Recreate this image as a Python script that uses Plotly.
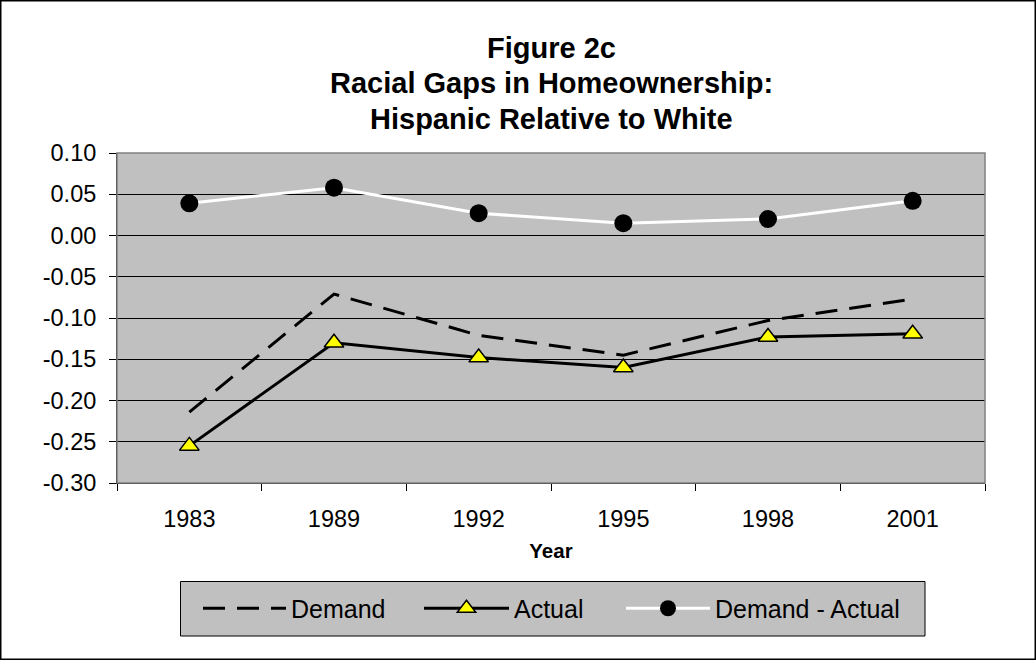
import plotly.graph_objects as go

years = ["1983", "1989", "1992", "1995", "1998", "2001"]
demand = [-0.214, -0.071, -0.121, -0.145, -0.103, -0.077]
actual = [-0.255, -0.130, -0.148, -0.160, -0.123, -0.119]
gap = [0.039, 0.058, 0.027, 0.015, 0.020, 0.042]

ytick_vals = [0.10, 0.05, 0.00, -0.05, -0.10, -0.15, -0.20, -0.25, -0.30]
ytick_text = ["0.10", "0.05", "0.00", "-0.05", "-0.10", "-0.15", "-0.20", "-0.25", "-0.30"]

title_lines = ["Figure 2c", "Racial Gaps in Homeownership:", "Hispanic Relative to White"]

W, H = 1036, 660
ML, MR, MT, MB = 117, 51, 153, 177
PW = W - ML - MR
PH = H - MT - MB
FONT = "Liberation Sans, Arial, sans-serif"


def px_x(px):
    return (px - ML) / PW


def px_y(py):
    return (H - MB - py) / PH


fig = go.Figure()
fig.add_trace(go.Scatter(
    x=years, y=demand, name="Demand", mode="lines", legend="legend",
    line=dict(color="black", width=3, dash="22px,12px"),
))
fig.add_trace(go.Scatter(
    x=years, y=actual, name="Actual", mode="lines+markers", legend="legend2",
    line=dict(color="black", width=3),
    marker=dict(symbol="triangle-up", size=17, color="#FFFF00",
                line=dict(color="black", width=1.5)),
))
fig.add_trace(go.Scatter(
    x=years, y=gap, name="Demand - Actual", mode="lines+markers", legend="legend3",
    line=dict(color="white", width=3),
    marker=dict(symbol="circle", size=18, color="black",
                line=dict(color="black", width=0)),
))

annotations = []
for txt, py in zip(title_lines, [47.5, 83.5, 119.5]):
    annotations.append(dict(
        text="<b>%s</b>" % txt, x=0.5, y=px_y(py), xref="paper", yref="paper",
        xanchor="center", yanchor="middle", showarrow=False,
        font=dict(family=FONT, size=29, color="black"),
    ))

shapes = [
    # legend box
    dict(type="rect", xref="paper", yref="paper",
         x0=px_x(180.5), x1=px_x(925), y0=px_y(636), y1=px_y(581.5),
         fillcolor="#C0C0C0", line=dict(color="black", width=1), layer="below"),
    # plot frame
    dict(type="rect", xref="paper", yref="paper", x0=0, x1=1, y0=0, y1=1,
         line=dict(color="#808080", width=1.5), layer="above"),
    # outer figure border
    dict(type="rect", xref="paper", yref="paper",
         x0=px_x(0.75), x1=px_x(W - 0.75), y0=px_y(H - 0.75), y1=px_y(0.75),
         line=dict(color="black", width=1.5), layer="above"),
]


def legend_at(px_left, itemwidth):
    return dict(
        orientation="h", x=px_x(px_left), xanchor="left", y=px_y(608.5), yanchor="middle",
        bgcolor="rgba(0,0,0,0)", borderwidth=0,
        font=dict(family=FONT, size=25, color="black"),
        itemwidth=itemwidth,
    )


fig.update_layout(
    width=W, height=H,
    margin=dict(l=ML, r=MR, t=MT, b=MB),
    paper_bgcolor="white",
    plot_bgcolor="#C0C0C0",
    font=dict(family=FONT, color="black"),
    annotations=annotations,
    shapes=shapes,
    showlegend=True,
    legend=legend_at(198, 83),
    legend2=legend_at(419, 85),
    legend3=legend_at(621, 84),
)

fig.update_xaxes(
    type="category", tickson="boundaries", ticks="outside", ticklen=7,
    tickcolor="black", tickwidth=1, showline=True, linecolor="black", linewidth=1,
    showgrid=False, tickfont=dict(family=FONT, size=23.5, color="black"),
    ticklabelstandoff=15,
    title=dict(text="<b>Year</b>", font=dict(family=FONT, size=20.5, color="black"), standoff=12),
    range=[-0.5, 5.5],
)
fig.update_yaxes(
    range=[-0.30, 0.10], tickvals=ytick_vals, ticktext=ytick_text,
    ticks="outside", ticklen=7, tickcolor="black", tickwidth=1,
    showline=True, linecolor="black", linewidth=1,
    showgrid=True, gridcolor="black", gridwidth=1, zeroline=False,
    tickfont=dict(family=FONT, size=23.5, color="black"),
    ticklabelstandoff=8,
)

fig.write_html("out.html")
